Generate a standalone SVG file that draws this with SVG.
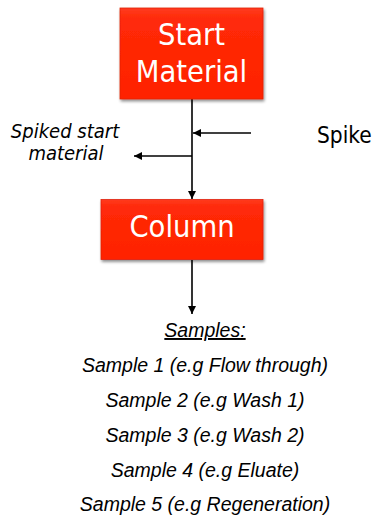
<svg xmlns="http://www.w3.org/2000/svg" width="374" height="519" viewBox="0 0 374 519">
  <style>
    .box { fill: url(#boxFill); stroke: #e0200a; stroke-width: 0.8; filter: url(#shadow); }
    .boxText { font-family: "DejaVu Sans", Verdana, sans-serif; font-stretch: condensed; font-size: 30.5px; fill: #ffffff; text-anchor: middle; }
    .side { font-family: "DejaVu Sans", Verdana, sans-serif; font-stretch: condensed; fill: #000000; }
    .sample { font-family: "Liberation Sans", Arial, sans-serif; font-style: italic; font-size: 19.5px; fill: #000000; text-anchor: middle; }
    .wire { stroke: #000000; stroke-width: 1.6; fill: none; }
  </style>
  <defs>
    <linearGradient id="boxFill" x1="0" y1="0" x2="0" y2="1">
      <stop offset="0" stop-color="#ff3b1f"/>
      <stop offset="0.12" stop-color="#ff2a08"/>
      <stop offset="1" stop-color="#ff2200"/>
    </linearGradient>
    <filter id="shadow" x="-10%" y="-10%" width="125%" height="130%">
      <feGaussianBlur in="SourceAlpha" stdDeviation="1.5"/>
      <feOffset dx="1" dy="2" result="off"/>
      <feComponentTransfer><feFuncA type="linear" slope="0.45"/></feComponentTransfer>
      <feMerge><feMergeNode/><feMergeNode in="SourceGraphic"/></feMerge>
    </filter>
    <marker id="head" viewBox="0 0 10 10" refX="10" refY="5" markerWidth="5.5" markerHeight="5" orient="auto" markerUnits="strokeWidth">
      <path d="M0,0 L10,5 L0,10 Z" fill="#000000"/>
    </marker>
  </defs>

  <!-- flow connectors -->
  <g id="connectors">
    <line class="wire" x1="192" y1="99" x2="192" y2="199" marker-end="url(#head)"/>
    <line class="wire" x1="251" y1="133" x2="193" y2="133" marker-end="url(#head)"/>
    <line class="wire" x1="192" y1="156" x2="134" y2="156" marker-end="url(#head)"/>
    <line class="wire" x1="192" y1="260" x2="192" y2="314" marker-end="url(#head)"/>
  </g>

  <g id="start-material">
    <rect class="box" x="120" y="8" width="143" height="91"/>
    <text class="boxText" x="191.5" y="45">Start</text>
    <text class="boxText" x="191.5" y="82">Material</text>
  </g>

  <g id="spike">
    <text class="side" x="317" y="143" font-size="22.5px">Spike</text>
  </g>

  <g id="spiked-start-material">
    <text class="side" x="65" y="138" font-size="20px" font-style="italic" text-anchor="middle">Spiked start</text>
    <text class="side" x="66" y="160" font-size="20px" font-style="italic" text-anchor="middle">material</text>
  </g>

  <g id="column">
    <rect class="box" x="101" y="199.5" width="162" height="60"/>
    <text class="boxText" x="182" y="237">Column</text>
  </g>

  <g id="samples">
    <text class="sample" x="205" y="337" text-decoration="underline">Samples:</text>
    <text class="sample" x="205" y="372">Sample 1 (e.g Flow through)</text>
    <text class="sample" x="205" y="407">Sample 2 (e.g Wash 1)</text>
    <text class="sample" x="205" y="442">Sample 3 (e.g Wash 2)</text>
    <text class="sample" x="205" y="477">Sample 4 (e.g Eluate)</text>
    <text class="sample" x="205" y="511">Sample 5 (e.g Regeneration)</text>
  </g>
</svg>
